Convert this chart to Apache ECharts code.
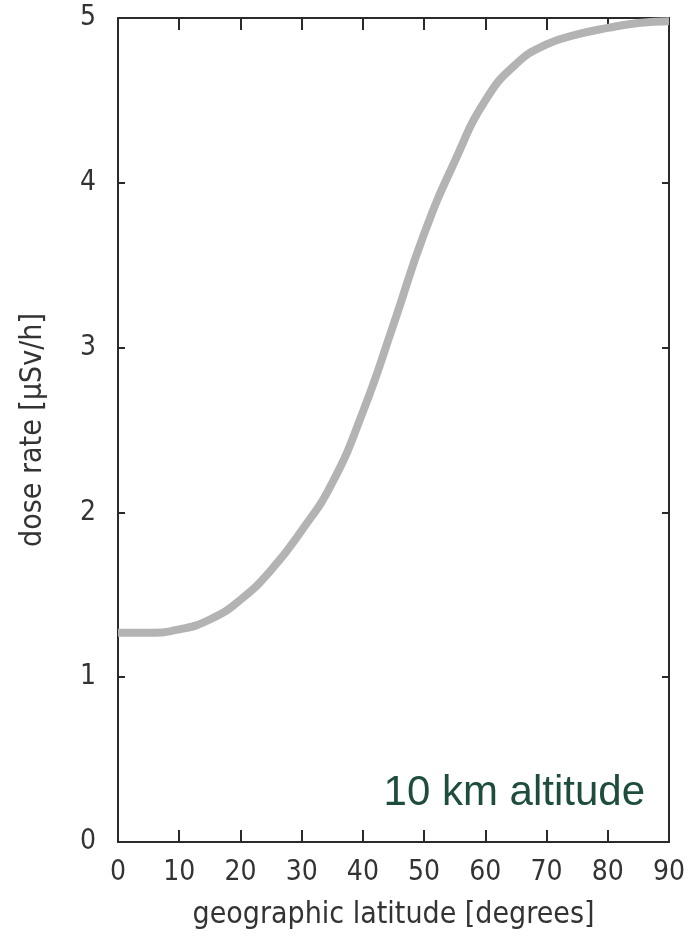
<!DOCTYPE html>
<html>
<head>
<meta charset="utf-8">
<script src="https://cdn.jsdelivr.net/npm/echarts@6/dist/echarts.min.js"></script>
<style>
  html, body { margin: 0; padding: 0; background: #fff; }
  #chart { width: 693px; height: 942px; }
</style>
</head>
<body>
<div id="chart"></div>
<script>
// latitude (degrees) vs dose rate (µSv/h) at 10 km
const latitudes = [0, 5, 10, 15, 20, 25, 30, 35, 40, 45, 50, 55, 60, 65, 70, 75, 80, 85, 90];
const doseRates = [1.27, 1.27, 1.29, 1.35, 1.47, 1.65, 1.89, 2.18, 2.61, 3.14, 3.69, 4.13, 4.50, 4.72, 4.84, 4.90, 4.94, 4.97, 4.98];
const xTicks = [0, 10, 20, 30, 40, 50, 60, 70, 80, 90];
const yTicks = [0, 1, 2, 3, 4, 5];

const labelFont = '"DejaVu Sans Condensed", "Liberation Sans Narrow", sans-serif';
const axisColor = '#2a2a2a';

const chart = echarts.init(document.getElementById('chart'));

const baseAxis = {
    type: 'value',
    axisLine: { show: true, onZero: false, lineStyle: { color: axisColor, width: 2 } },
    splitLine: { show: false }
};

const option = {
    animation: false,
    backgroundColor: '#fff',
    grid: { left: 118, right: 24, top: 18, bottom: 100, outerBoundsMode: 'none' },
    xAxis: [
        Object.assign({}, baseAxis, {
            min: 0, max: 90, interval: 10,
            position: 'bottom',
            name: 'geographic latitude [degrees]',
            nameLocation: 'middle',
            nameGap: 58,
            nameTextStyle: { fontFamily: labelFont, fontSize: 30, color: '#333' },
            axisTick: { show: true, inside: true, length: 12, lineStyle: { color: axisColor, width: 2 } },
            axisLabel: { fontFamily: labelFont, fontSize: 28, color: '#333', margin: 17,
                formatter: v => xTicks.includes(v) ? String(v) : '' }
        }),
        Object.assign({}, baseAxis, {
            min: 0, max: 90, interval: 10,
            position: 'top',
            axisTick: { show: true, inside: true, length: 12, lineStyle: { color: axisColor, width: 2 } },
            axisLabel: { show: false }
        })
    ],
    yAxis: [
        Object.assign({}, baseAxis, {
            min: 0, max: 5, interval: 1,
            position: 'left',
            name: 'dose rate [µSv/h]',
            nameLocation: 'middle',
            nameGap: 70,
            nameRotate: 90,
            nameTextStyle: { fontFamily: labelFont, fontSize: 30, color: '#333' },
            axisTick: { show: true, inside: true, length: 7, lineStyle: { color: axisColor, width: 2 } },
            axisLabel: { fontFamily: labelFont, fontSize: 28, color: '#333', margin: 22,
                formatter: v => yTicks.includes(v) ? String(v) : '' }
        }),
        Object.assign({}, baseAxis, {
            min: 0, max: 5, interval: 1,
            position: 'right',
            axisTick: { show: true, inside: true, length: 7, lineStyle: { color: axisColor, width: 2 } },
            axisLabel: { show: false }
        })
    ],
    graphic: [{
        type: 'text',
        right: 48,
        top: 772,
        style: {
            text: '10 km altitude',
            fontFamily: '"Liberation Sans", Arial, sans-serif',
            fontSize: 42,
            fill: '#1e4d3b'
        }
    }],
    series: [{
        type: 'line',
        data: latitudes.map((x, i) => [x, doseRates[i]]),
        smooth: 0.5,
        showSymbol: false,
        lineStyle: { color: '#b3b3b3', width: 8 },
        z: 1
    }]
};

chart.setOption(option);
</script>
</body>
</html>
